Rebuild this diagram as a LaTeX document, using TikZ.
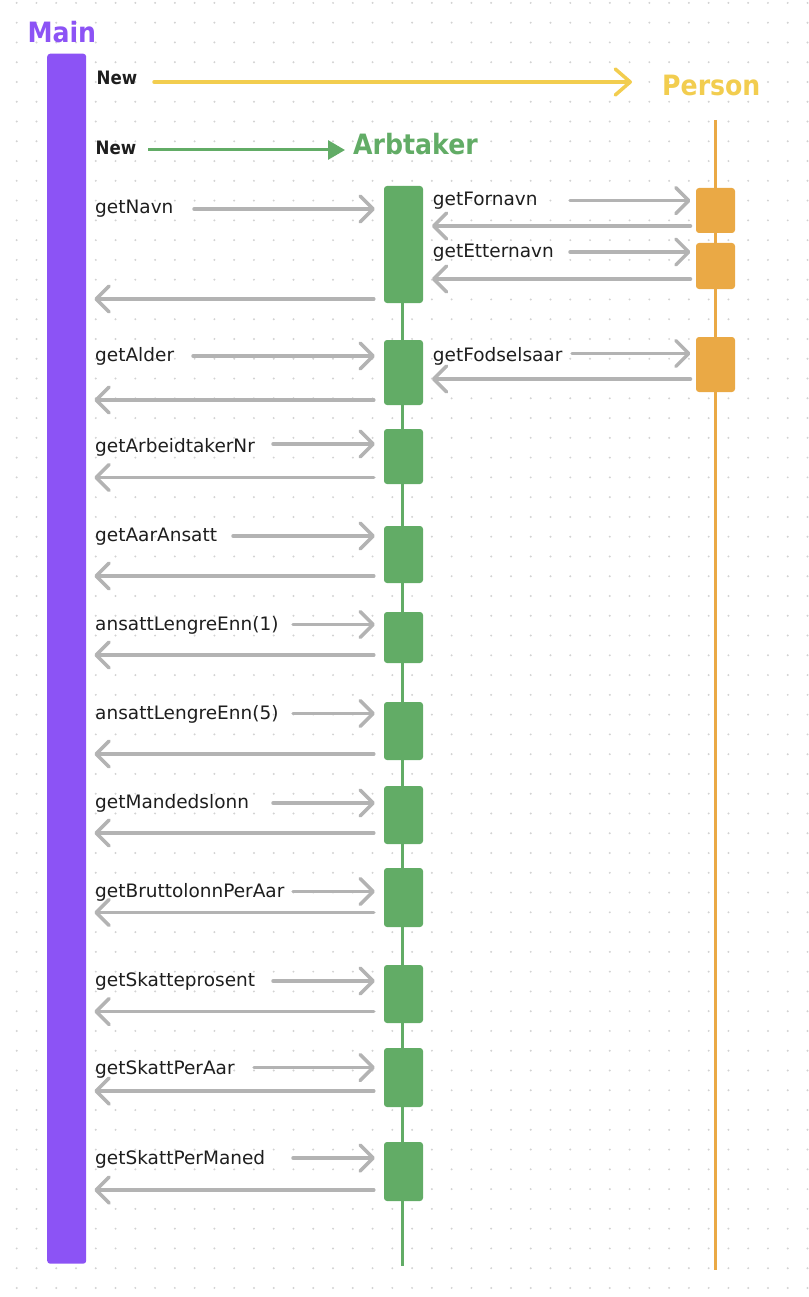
\documentclass[tikz,border=0pt]{standalone}
\usepackage{fontspec}
\setmainfont{DejaVu Sans}
\newfontfamily\titlefont[FakeStretch=0.9]{DejaVu Sans}
\usetikzlibrary{arrows.meta}
\definecolor{mpurple}{HTML}{8C53F5}
\definecolor{mgreen}{HTML}{62AC66}
\definecolor{myellow}{HTML}{F2CD4F}
\definecolor{morange}{HTML}{EAA945}
\definecolor{mgray}{HTML}{B3B3B3}
\definecolor{mtext}{HTML}{1E1E1E}
\definecolor{mdot}{HTML}{D2D2D2}
\tikzset{
  lbl/.style={inner sep=0pt, anchor=base west, text=mtext, font=\fontsize{18.5}{22}\selectfont},
  newlbl/.style={inner sep=0pt, anchor=base west, text=mtext, font=\titlefont\bfseries\fontsize{18.5}{22}\selectfont},
  ttl/.style={inner sep=0pt, anchor=base west, font=\titlefont\bfseries\fontsize{28}{32}\selectfont},
  gbox/.style={fill=mgreen, rounded corners=3pt, inner sep=0pt, minimum width=39pt},
  obox/.style={fill=morange, rounded corners=3pt, inner sep=0pt, minimum width=39pt},
  msg/.style={draw=mgray, line width=3.5pt, line cap=round, -{Straight Barb[length=13pt,width=26pt,round]}},
  glife/.style={draw=mgreen, line width=3pt},
  olife/.style={draw=morange, line width=3pt},
}
\begin{document}
\begin{tikzpicture}[x=1pt,y=-1pt]
\useasboundingbox (0,0) rectangle (808,1297);
% dot grid
\foreach \i in {0,...,40}{
  \foreach \j in {0,...,65}{
    \fill[mdot] ({16.7+19.77*\i},{2.9+19.77*\j}) circle (1.1pt);
  }
}
% Main
\node[fill=mpurple, rounded corners=3pt, inner sep=0pt, minimum width=39pt, minimum height=1210pt, anchor=north west] (main) at (47,53.5) {};
\node[ttl, text=mpurple] (mainlbl) at (27.3,42.3) {Main};
% titles
\node[ttl, text=myellow] (person) at (662,95.7) {Person};
\node[ttl, text=mgreen] (arbtaker) at (353,155) {Arbtaker};
\node[newlbl] (new1) at (96.5,84.3) {New};
\node[newlbl] (new2) at (95.5,155) {New};
% lifelines
\coordinate (ptop) at (715,120);
\coordinate (pbot) at (715,1270);
\coordinate (atop) at (402.5,186);
\coordinate (abot) at (402.5,1266);
\draw[olife] (ptop) -- (pbot);
\draw[glife] (atop) -- (abot);
% creation arrows
\coordinate (ys) at (154,82);
\draw[draw=myellow, line width=3.5pt, line cap=round, -{Straight Barb[length=15pt,width=26pt,round]}, shorten >=30pt] (ys) -- (person.west |- ys);
\coordinate (gs) at (148,150);
\draw[draw=mgreen, line width=3pt, -{Triangle[length=17pt,width=19pt]}, shorten >=8pt] (gs) -- (arbtaker.west |- gs);
% green activation boxes
\foreach \i/\c/\h in {1/244.5/117, 2/372.5/65, 3/456.5/55, 4/554.5/57, 5/637.5/51, 6/731/58, 7/815/58, 8/897.5/59, 9/994/58, 10/1077.5/59, 11/1171.5/59}{
  \node[gbox, minimum height=\h pt] (g\i) at (403.5,\c) {};
}
% orange activation boxes
\foreach \i/\c/\h in {1/210.5/45, 2/266/46, 3/364.5/55}{
  \node[obox, minimum height=\h pt] (o\i) at (715.5,\c) {};
}
% Main <-> Arbtaker messages
\foreach \i/\lab/\cy/\sx/\ry/\by in {
  1/getNavn/209/194/299/214,
  2/getAlder/356/193/400/361,
  3/getArbeidtakerNr/444/273/477.5/452,
  4/getAarAnsatt/536/233/576/541.5,
  5/ansattLengreEnn(1)/624.5/293/655/630.5,
  6/ansattLengreEnn(5)/713.5/293/754/719.5,
  7/getMandedslonn/803/273/833/808.5,
  8/getBruttolonnPerAar/891.5/293/912.5/897,
  9/getSkatteprosent/981/273/1011.5/986.5,
  10/getSkattPerAar/1067.5/254/1091/1074,
  11/getSkattPerManed/1158/293/1190/1164}{
  \node[lbl] (l\i) at (95,\by) {\lab};
  \coordinate (cs\i) at (\sx,\cy);
  \coordinate (cr\i) at (200,\ry);
  \draw[msg, shorten >=9pt] (cs\i) -- (g\i.west |- cs\i);
  \draw[msg, shorten <=10pt, shorten >=8pt] (g\i.west |- cr\i) -- (main.east |- cr\i);
}
% Arbtaker <-> Person messages
\foreach \i/\lab/\cy/\sx/\ry/\by/\g in {
  1/getFornavn/200.7/570/226/206/1,
  2/getEtternavn/252/570/279/257/1,
  3/getFodselsaar/353.5/572/379/361/2}{
  \node[lbl] (p\i) at (432.7,\by) {\lab};
  \coordinate (ps\i) at (\sx,\cy);
  \coordinate (pr\i) at (600,\ry);
  \draw[msg, shorten >=5.3pt] (ps\i) -- (o\i.west |- ps\i);
  \draw[msg, shorten <=5.3pt, shorten >=8.7pt] (o\i.west |- pr\i) -- (g\g.east |- pr\i);
}
\end{tikzpicture}
\end{document}
